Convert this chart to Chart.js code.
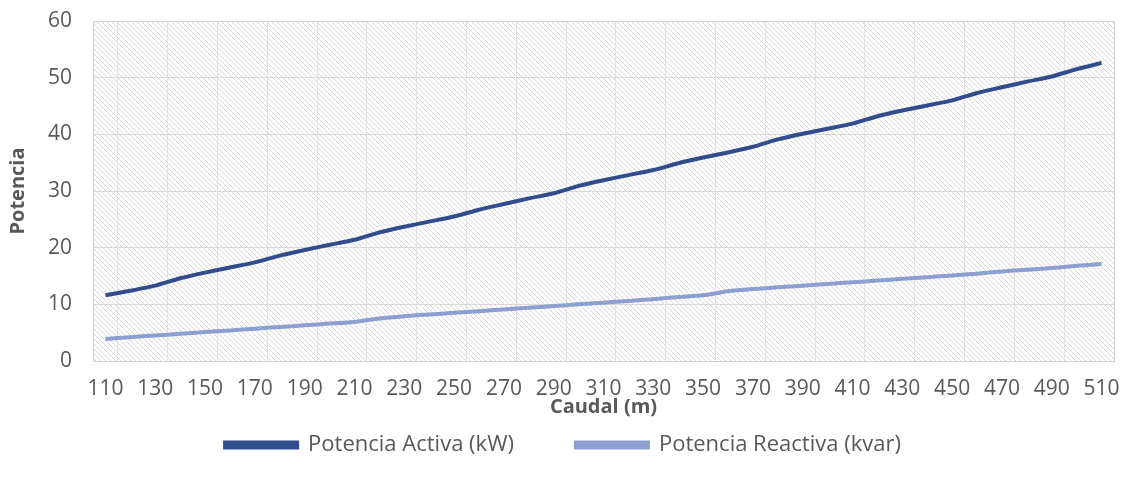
<!DOCTYPE html>
<html>
<head>
<meta charset="utf-8">
<script src="https://cdn.jsdelivr.net/npm/chart.js@4"></script>
<style>
  html, body { margin: 0; padding: 0; background: #fff; }
  #wrap { width: 1126px; height: 484px; }
</style>
</head>
<body>
<div id="wrap"><canvas id="grafico"></canvas></div>
<script>
// datos
const caudal = [110, 120, 130, 140, 150, 160, 170, 180, 190, 200,
    210, 220, 230, 240, 250, 260, 270, 280, 290, 300,
    310, 320, 330, 340, 350, 360, 370, 380, 390, 400,
    410, 420, 430, 440, 450, 460, 470, 480, 490, 500, 510];

const potenciaActiva = [11.6, 12.4, 13.3, 14.6, 15.6, 16.5, 17.4, 18.6, 19.6, 20.5,
    21.4, 22.7, 23.7, 24.6, 25.5, 26.7, 27.7, 28.7, 29.6, 30.9,
    31.9, 32.8, 33.7, 34.9, 35.9, 36.8, 37.8, 39.1, 40.1, 41.0,
    41.9, 43.2, 44.2, 45.1, 46.0, 47.3, 48.3, 49.3, 50.2, 51.5, 52.6];

const potenciaReactiva = [3.9, 4.2, 4.5, 4.8, 5.1, 5.4, 5.7, 6.0, 6.3, 6.6,
    6.9, 7.5, 7.9, 8.2, 8.5, 8.8, 9.1, 9.4, 9.7, 10.0,
    10.3, 10.6, 10.9, 11.3, 11.6, 12.3, 12.7, 13.0, 13.3, 13.6,
    13.9, 14.2, 14.5, 14.8, 15.1, 15.4, 15.8, 16.1, 16.4, 16.8, 17.1];

const yTicks = [0, 10, 20, 30, 40, 50, 60];

// fondo rayado del area de trazado
function rayado() {
    const c = document.createElement("canvas");
    c.width = 5;
    c.height = 5;
    const g = c.getContext("2d");
    g.fillStyle = "#ffffff";
    g.fillRect(0, 0, 5, 5);
    g.strokeStyle = "#d8d8d8";
    g.lineWidth = 1;
    g.beginPath();
    g.moveTo(-1, -1);
    g.lineTo(6, 6);
    g.moveTo(-1, 4);
    g.lineTo(1, 6);
    g.moveTo(4, -1);
    g.lineTo(6, 1);
    g.stroke();
    return g.createPattern(c, "repeat");
}

const fondo = {
    id: "fondo",
    afterLayout(chart) {
        // mas separacion horizontal entre las entradas de la leyenda
        const lg = chart.legend;
        const p0 = lg.options.labels.padding;
        const p1 = 62;
        const d = p1 - p0;
        lg.options.labels.padding = p1;
        lg.top -= d;
        lg.left -= 2 * d;
    },
    beforeDraw(chart) {
        const a = chart.chartArea;
        const ctx = chart.ctx;
        ctx.save();
        ctx.fillStyle = rayado();
        ctx.fillRect(a.left, a.top, a.right - a.left, a.bottom - a.top);
        ctx.restore();
    },
    afterDatasetsDraw(chart) {
        const a = chart.chartArea;
        const ctx = chart.ctx;
        ctx.save();
        ctx.strokeStyle = "#d0d0d0";
        ctx.lineWidth = 1;
        ctx.strokeRect(Math.round(a.left) + 0.5, Math.round(a.top) + 0.5,
            Math.round(a.right - a.left), Math.round(a.bottom - a.top));
        ctx.restore();
    }
};

const fuente = "'Open Sans', 'Noto Sans', sans-serif";

new Chart(document.getElementById("grafico"), {
    type: "line",
    data: {
        labels: caudal,
        datasets: [{
            label: "Potencia Activa (kW)",
            data: potenciaActiva,
            borderColor: "#304c8d",
            backgroundColor: "#304c8d",
            borderWidth: 4,
            pointRadius: 0,
            tension: 0.2
        }, {
            label: "Potencia Reactiva (kvar)",
            data: potenciaReactiva,
            borderColor: "#8d9ed0",
            backgroundColor: "#8d9ed0",
            borderWidth: 4,
            pointRadius: 0,
            tension: 0.2
        }]
    },
    plugins: [fondo],
    options: {
        responsive: true,
        maintainAspectRatio: false,
        animation: false,
        layout: {
            padding: { left: 0, right: 0, top: 0, bottom: 18 }
        },
        plugins: {
            legend: {
                position: "bottom",
                labels: {
                    font: { family: fuente, size: 22 },
                    color: "#595959",
                    boxWidth: 72,
                    boxHeight: 5,
                    padding: 10
                }
            },
            tooltip: { enabled: false }
        },
        scales: {
            x: {
                offset: true,
                afterFit: (s) => { s.height = 63; s.paddingRight = 12; },
                grid: {
                    offset: true,
                    drawTicks: false,
                    color: (c) => c.index % 2 === 1 ? "#e2e2e2" : "rgba(0,0,0,0)"
                },
                border: { display: false },
                ticks: {
                    autoSkip: false,
                    maxRotation: 0,
                    padding: 15,
                    color: "#595959",
                    font: { family: fuente, size: 21 },
                    callback: function (v, i) {
                        return i % 2 === 0 ? this.getLabelForValue(v) : "";
                    }
                },
                title: {
                    display: true,
                    text: "Caudal (m)",
                    color: "#595959",
                    font: { family: fuente, size: 20, weight: "bold" },
                    padding: { top: 0, bottom: 5 }
                }
            },
            y: {
                min: yTicks[0],
                max: yTicks[yTicks.length - 1],
                afterBuildTicks: (s) => { s.ticks = yTicks.map(v => ({ value: v })); },
                afterFit: (s) => { s.width = 93; s.paddingTop = 21; },
                grid: { color: "#d9d9d9", drawTicks: false },
                border: { display: false },
                ticks: {
                    padding: 21,
                    color: "#595959",
                    font: { family: fuente, size: 21 }
                },
                title: {
                    display: true,
                    text: "Potencia",
                    color: "#595959",
                    font: { family: fuente, size: 20, weight: "bold" },
                    padding: { top: 6, bottom: 0 }
                }
            }
        }
    }
});
</script>
</body>
</html>
